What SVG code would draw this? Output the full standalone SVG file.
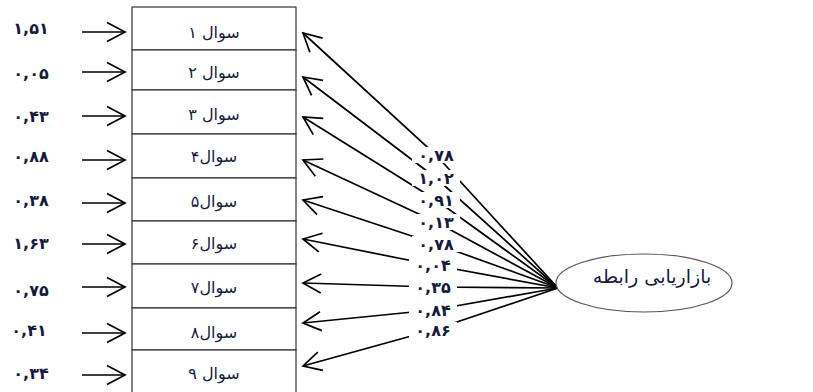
<svg xmlns="http://www.w3.org/2000/svg" width="813" height="392" viewBox="0 0 813 392">
<defs>
<marker id="open" markerUnits="userSpaceOnUse" viewBox="-22 -12 26 24" markerWidth="26" markerHeight="24" refX="0" refY="0" orient="auto">
<path d="M-18,-9.5 L0,0 L-18,9.5" fill="none" stroke="#000" stroke-width="1.7"/>
</marker>
</defs>
<style>
.box{fill:#fff;stroke:#333;stroke-width:1.2}
.t{font-family:"DejaVu Sans",sans-serif;font-size:16px;fill:#141a40;text-anchor:middle;dominant-baseline:central}
.n{font-weight:bold}
.ln{fill:none;stroke:#000;stroke-width:1.7;marker-end:url(#open)}
.bg{fill:#fff}
.el{fill:#fff;stroke:#555;stroke-width:1.2}
</style>
<rect width="813" height="392" fill="#fff"/>

<g id="connectors">
<line class="ln" x1="82" y1="32" x2="125" y2="32"/>
<line class="ln" x1="82" y1="72" x2="125" y2="72"/>
<line class="ln" x1="82" y1="116" x2="125" y2="116"/>
<line class="ln" x1="82" y1="160" x2="125" y2="160"/>
<line class="ln" x1="82" y1="203" x2="125" y2="203"/>
<line class="ln" x1="82" y1="244" x2="125" y2="244"/>
<line class="ln" x1="82" y1="287" x2="125" y2="287"/>
<line class="ln" x1="82" y1="333" x2="125" y2="333"/>
<line class="ln" x1="82" y1="375" x2="125" y2="375"/>

<path class="ln" d="M558,288 L436,155 L303,33"/>
<path class="ln" d="M558,288 L436,178 L303,77"/>
<path class="ln" d="M558,288 L436,200 L303,117"/>
<path class="ln" d="M558,288 L436,222 L303,160"/>
<path class="ln" d="M558,288 L436,244 L303,200"/>
<path class="ln" d="M558,288 L433,265 L303,239"/>
<path class="ln" d="M558,288 L433,287 L303,283"/>
<path class="ln" d="M558,288 L433,310 L303,323"/>
<path class="ln" d="M558,288 L433,330 L303,366"/>

<rect class="bg" x="412" y="147" width="48" height="16"/>
<rect class="bg" x="412" y="170" width="48" height="16"/>
<rect class="bg" x="412" y="192" width="48" height="16"/>
<rect class="bg" x="412" y="214" width="48" height="16"/>
<rect class="bg" x="412" y="236" width="48" height="16"/>
<rect class="bg" x="409" y="257" width="48" height="16"/>
<rect class="bg" x="409" y="279" width="48" height="16"/>
<rect class="bg" x="409" y="302" width="48" height="16"/>
<rect class="bg" x="409" y="322" width="48" height="16"/>
<text class="t n" x="436" y="155">۰,۷۸</text>
<text class="t n" x="436" y="178">۱,۰۲</text>
<text class="t n" x="436" y="200">۰,۹۱</text>
<text class="t n" x="436" y="222">۰,۱۳</text>
<text class="t n" x="436" y="244">۰,۷۸</text>
<text class="t n" x="433" y="265">۰,۰۴</text>
<text class="t n" x="433" y="287">۰,۳۵</text>
<text class="t n" x="433" y="310">۰,۸۴</text>
<text class="t n" x="433" y="330">۰,۸۶</text>

<text class="t n" x="31" y="28">۱,۵۱</text>
<text class="t n" x="31" y="73">۰,۰۵</text>
<text class="t n" x="31" y="116">۰,۴۳</text>
<text class="t n" x="31" y="156">۰,۸۸</text>
<text class="t n" x="31" y="200">۰,۳۸</text>
<text class="t n" x="31" y="243">۱,۶۳</text>
<text class="t n" x="31" y="290">۰,۷۵</text>
<text class="t n" x="29" y="330">۰,۴۱</text>
<text class="t n" x="31" y="373">۰,۳۴</text>
</g>

<g id="q1"><rect class="box" x="132" y="7" width="164" height="43"/><text class="t" x="214" y="32">سوال ۱</text></g>
<g id="q2"><rect class="box" x="132" y="50" width="164" height="40"/><text class="t" x="214" y="72">سوال ۲</text></g>
<g id="q3"><rect class="box" x="132" y="90" width="164" height="44"/><text class="t" x="214" y="114">سوال ۳</text></g>
<g id="q4"><rect class="box" x="132" y="134" width="164" height="44"/><text class="t" x="214" y="156">سوال۴</text></g>
<g id="q5"><rect class="box" x="132" y="178" width="164" height="43"/><text class="t" x="214" y="201">سوال۵</text></g>
<g id="q6"><rect class="box" x="132" y="221" width="164" height="43"/><text class="t" x="214" y="243">سوال۶</text></g>
<g id="q7"><rect class="box" x="132" y="264" width="164" height="44"/><text class="t" x="214" y="287">سوال۷</text></g>
<g id="q8"><rect class="box" x="132" y="308" width="164" height="42"/><text class="t" x="214" y="332">سوال۸</text></g>
<g id="q9"><rect class="box" x="132" y="350" width="164" height="50"/><text class="t" x="214" y="373">سوال ۹</text></g>

<g id="factor"><ellipse class="el" cx="644" cy="283" rx="88" ry="29"/><text class="t" x="652" y="276" style="font-size:19px">بازاریابی رابطه</text></g>
</svg>
